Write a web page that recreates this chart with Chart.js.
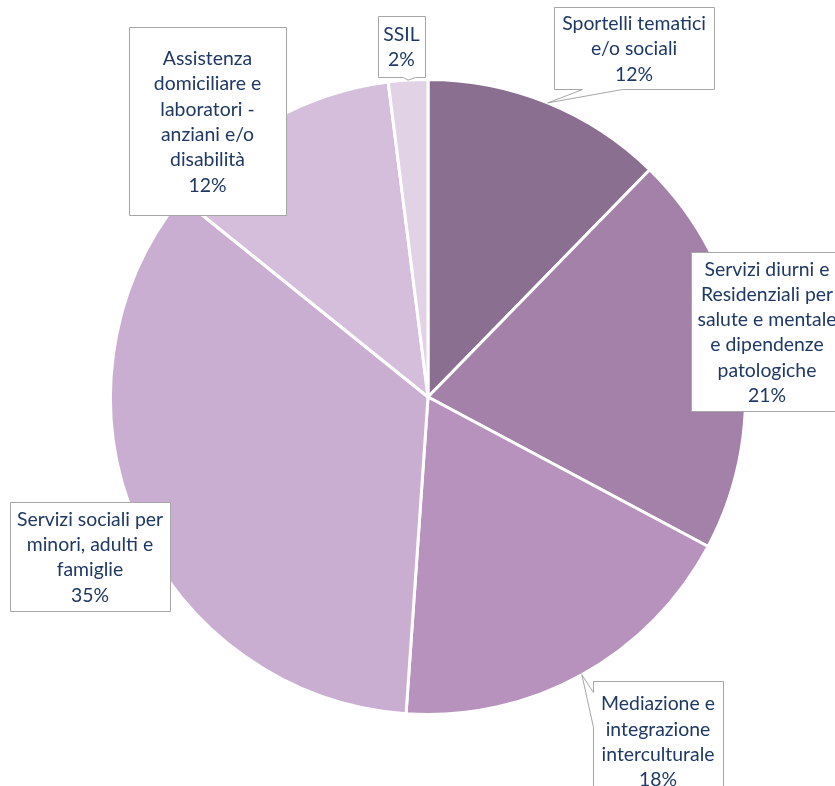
<!DOCTYPE html>
<html>
<head>
<meta charset="utf-8">
<script src="https://cdn.jsdelivr.net/npm/chart.js@4/dist/chart.umd.min.js"></script>
<style>
html,body{margin:0;padding:0;background:#fff;}
canvas{display:block;}
</style>
</head>
<body>
<canvas id="c" width="835" height="786"></canvas>
<script>
const categories = [
  ["Sportelli tematici", "e/o sociali"],
  ["Servizi diurni e", "Residenziali per", "salute e mentale", "e dipendenze", "patologiche"],
  ["Mediazione e", "integrazione", "interculturale"],
  ["Servizi sociali per", "minori, adulti e", "famiglie"],
  ["Assistenza", "domiciliare e", "laboratori -", "anziani e/o", "disabilità"],
  ["SSIL"]
];
const shares = [12.3, 20.5, 18.3, 34.7, 12.2, 2.0];
const colors = ["#8B6F90", "#A481A8", "#B692BC", "#C9AED1", "#D5BEDB", "#E1D2E5"];

// label box layout (callouts): box rect and optional pointer base
const boxes = [
  {x:554, y:7,   w:160, h:82,  ptr:{side:'bottom', a:582, b:622}},
  {x:691, y:252, w:152, h:159, ptr:null},
  {x:593, y:681, w:130, h:120, ptr:{side:'left', a:692, b:727}},
  {x:10,  y:502, w:160, h:109, ptr:null},
  {x:129, y:27,  w:157, h:188, ptr:null},
  {x:378, y:16,  w:47,  h:61,  ptr:{side:'bottom', a:403, b:415}}
];

const FONT = '19.4px Lato, "Open Sans", sans-serif';
const LINE_H = 25.3;

const calloutPlugin = {
  id: 'callouts',
  afterDatasetsDraw(chart) {
    const ctx = chart.ctx;
    const meta = chart.getDatasetMeta(0);
    const total = shares.reduce((a, b) => a + b, 0);
    meta.data.forEach((arc, i) => {
      const bx = boxes[i];
      const p = arc.getProps(['x','y','startAngle','endAngle','outerRadius'], true);
      const mid = (p.startAngle + p.endAngle) / 2;
      const tx = p.x + p.outerRadius * Math.cos(mid);
      const ty = p.y + p.outerRadius * Math.sin(mid);
      const x0 = bx.x + 0.5, y0 = bx.y + 0.5, x1 = bx.x + bx.w + 0.5, y1 = bx.y + bx.h + 0.5;
      ctx.save();
      ctx.beginPath();
      ctx.moveTo(x0, y0);
      ctx.lineTo(x1, y0);
      ctx.lineTo(x1, y1);
      if (bx.ptr && bx.ptr.side === 'bottom') {
        ctx.lineTo(bx.ptr.b + 0.5, y1);
        ctx.lineTo(tx, ty);
        ctx.lineTo(bx.ptr.a + 0.5, y1);
        ctx.lineTo(x0, y1);
        ctx.closePath();
      } else if (bx.ptr && bx.ptr.side === 'left') {
        ctx.lineTo(x0, y1);
        ctx.lineTo(x0, bx.ptr.b + 0.5);
        ctx.lineTo(tx, ty);
        ctx.lineTo(x0, bx.ptr.a + 0.5);
        ctx.closePath();
      } else {
        ctx.lineTo(x0, y1);
        ctx.closePath();
      }
      ctx.fillStyle = '#ffffff';
      ctx.fill();
      ctx.strokeStyle = '#A6A6A6';
      ctx.lineWidth = 1;
      ctx.stroke();

      const lines = categories[i].concat([Math.round(shares[i] / total * 100) + '%']);
      ctx.font = FONT;
      ctx.fillStyle = '#1F3864';
      ctx.textAlign = 'center';
      ctx.textBaseline = 'middle';
      const cx = bx.x + bx.w / 2;
      const cy = bx.y + bx.h / 2 + 1;
      const startY = cy - (lines.length - 1) * LINE_H / 2;
      lines.forEach((t, k) => ctx.fillText(t, cx, startY + k * LINE_H));
      ctx.restore();
    });
  }
};

new Chart(document.getElementById('c'), {
  type: 'pie',
  data: {
    labels: categories.map(c => c.join(' ')),
    datasets: [{
      data: shares,
      backgroundColor: colors,
      borderColor: '#ffffff',
      borderWidth: 3
    }]
  },
  options: {
    responsive: false,
    animation: false,
    layout: { padding: { left: 109, right: 88, top: 77, bottom: 69 } },
    plugins: { legend: { display: false }, tooltip: { enabled: false } }
  },
  plugins: [calloutPlugin]
});
</script>
</body>
</html>
